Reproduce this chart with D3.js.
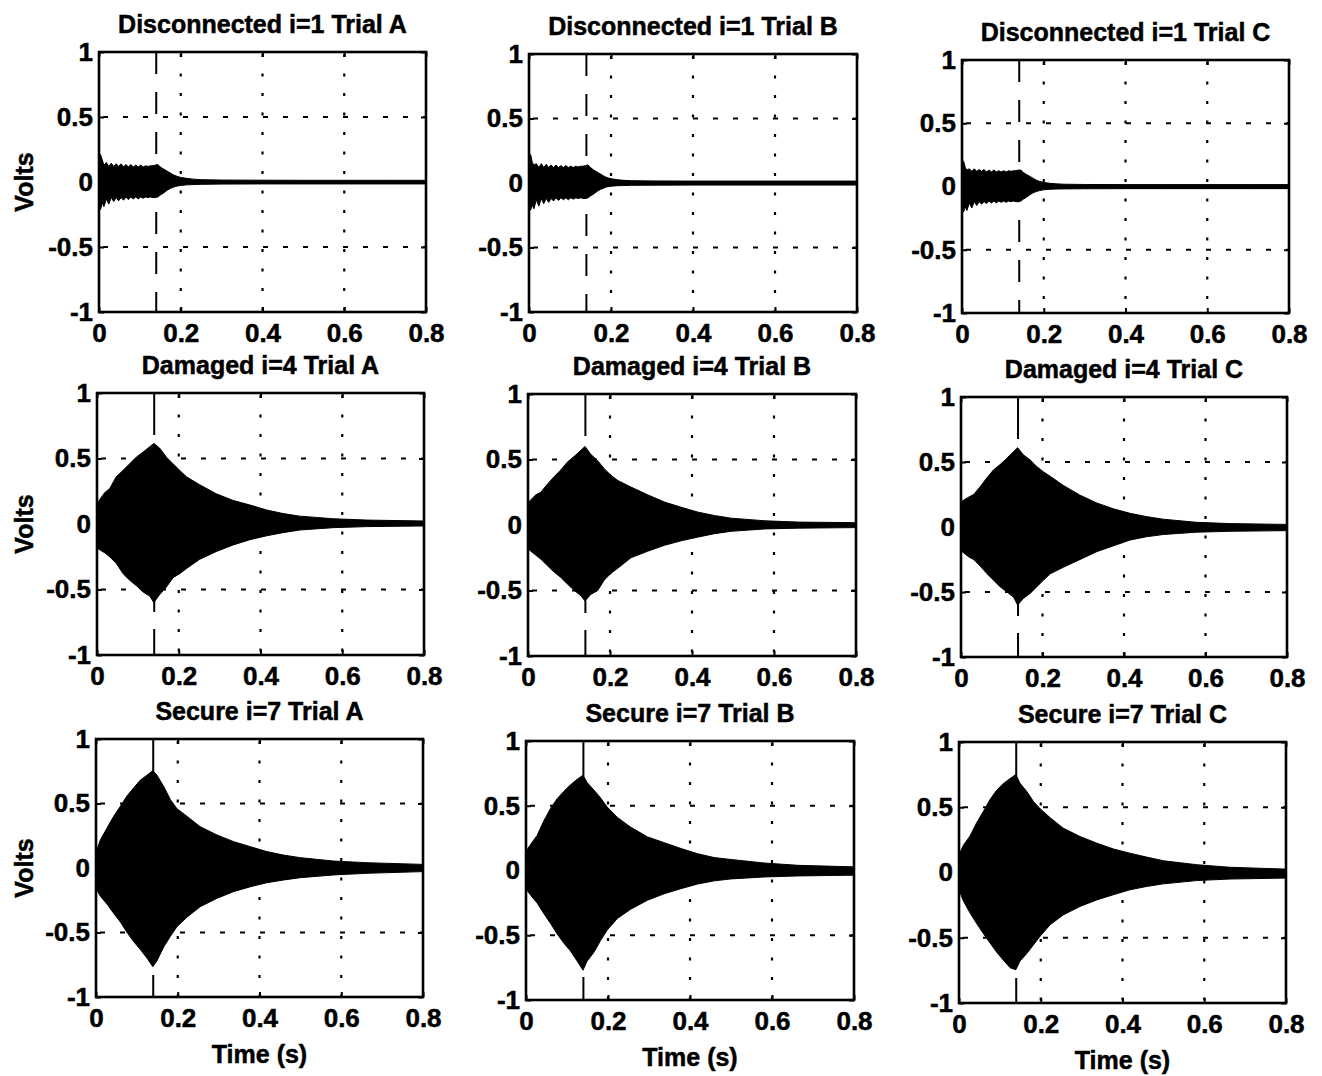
<!DOCTYPE html>
<html>
<head>
<meta charset="utf-8">
<script src="https://cdn.jsdelivr.net/npm/d3@7"></script>
<style>
  body { margin: 0; background: #fff; }
  svg text { font-family: "Liberation Sans", Arial, Helvetica, sans-serif; font-weight: bold; fill: #000; }
</style>
</head>
<body>
<svg id="fig" width="1322" height="1076"></svg>
<script>
// ---- Labels and ticks ----
const conditions = ["Disconnected i=1", "Damaged i=4", "Secure i=7"];
const trials = ["A", "B", "C"];
const xTicks = [0, 0.2, 0.4, 0.6, 0.8];
const xTickLabels = ["0", "0.2", "0.4", "0.6", "0.8"];
const yTicks = [-1, -0.5, 0, 0.5, 1];
const yTickLabels = ["-1", "-0.5", "0", "0.5", "1"];
const gridX = [0.2, 0.4, 0.6];
const gridY = [-0.5, 0, 0.5];
const impactTime = 0.14;   // time of the marker line (s)

// ---- Disconnected (i=1): signal envelope, volts ----
const timeDisconnected = [0, 0.004, 0.008, 0.012, 0.018, 0.024, 0.030, 0.036, 0.042, 0.048, 0.054, 0.060, 0.066, 0.072,
  0.078, 0.084, 0.090, 0.096, 0.102, 0.108, 0.114, 0.120, 0.126, 0.132, 0.138, 0.144, 0.150, 0.158, 0.166, 0.174,
  0.182, 0.190, 0.200, 0.215, 0.230, 0.250, 0.300, 0.400, 0.500, 0.600, 0.700, 0.800];
const upperDisconnectedA = [0.22, 0.21, 0.17, 0.13, 0.15, 0.12, 0.145, 0.12, 0.14, 0.12, 0.14, 0.115, 0.135, 0.115,
  0.135, 0.115, 0.13, 0.115, 0.13, 0.115, 0.125, 0.12, 0.125, 0.125, 0.13, 0.135, 0.115, 0.10, 0.085, 0.07,
  0.055, 0.045, 0.035, 0.028, 0.022, 0.018, 0.015, 0.014, 0.013, 0.013, 0.013, 0.013];
const lowerDisconnectedA = [-0.20, -0.21, -0.16, -0.19, -0.13, -0.17, -0.12, -0.15, -0.12, -0.145, -0.12, -0.14, -0.115, -0.135,
  -0.115, -0.13, -0.115, -0.13, -0.115, -0.125, -0.115, -0.12, -0.115, -0.12, -0.12, -0.115, -0.10, -0.085, -0.065, -0.05,
  -0.04, -0.032, -0.026, -0.022, -0.02, -0.018, -0.016, -0.015, -0.015, -0.015, -0.015, -0.015];
const upperDisconnectedB = [0.21, 0.22, 0.16, 0.14, 0.15, 0.12, 0.15, 0.12, 0.145, 0.12, 0.14, 0.12, 0.14, 0.12,
  0.135, 0.12, 0.135, 0.12, 0.13, 0.12, 0.13, 0.125, 0.13, 0.13, 0.135, 0.14, 0.12, 0.10, 0.085, 0.07,
  0.055, 0.042, 0.033, 0.026, 0.021, 0.018, 0.016, 0.015, 0.015, 0.015, 0.015, 0.015];
const lowerDisconnectedB = [-0.20, -0.21, -0.17, -0.20, -0.13, -0.18, -0.12, -0.16, -0.12, -0.15, -0.12, -0.14, -0.115, -0.135,
  -0.115, -0.13, -0.115, -0.13, -0.115, -0.125, -0.115, -0.12, -0.115, -0.12, -0.12, -0.115, -0.10, -0.085, -0.065, -0.05,
  -0.04, -0.03, -0.025, -0.021, -0.02, -0.018, -0.017, -0.016, -0.016, -0.016, -0.016, -0.016];
const upperDisconnectedC = [0.21, 0.20, 0.15, 0.13, 0.14, 0.12, 0.14, 0.12, 0.135, 0.12, 0.135, 0.115, 0.13, 0.115,
  0.13, 0.115, 0.125, 0.115, 0.125, 0.115, 0.125, 0.12, 0.125, 0.125, 0.13, 0.13, 0.11, 0.095, 0.08, 0.065,
  0.05, 0.04, 0.032, 0.025, 0.021, 0.018, 0.016, 0.015, 0.015, 0.015, 0.015, 0.015];
const lowerDisconnectedC = [-0.19, -0.20, -0.16, -0.19, -0.13, -0.17, -0.12, -0.15, -0.12, -0.14, -0.12, -0.135, -0.115, -0.13,
  -0.115, -0.13, -0.115, -0.125, -0.115, -0.125, -0.115, -0.12, -0.115, -0.12, -0.12, -0.115, -0.10, -0.085, -0.065, -0.05,
  -0.04, -0.032, -0.026, -0.022, -0.02, -0.019, -0.018, -0.017, -0.017, -0.017, -0.017, -0.017];

// ---- Damaged (i=4) ----
const timeDamaged = [0, 0.003, 0.019, 0.031, 0.047, 0.064, 0.080, 0.096, 0.113, 0.129, 0.139, 0.153, 0.170,
  0.186, 0.202, 0.219, 0.251, 0.292, 0.333, 0.374, 0.415, 0.455, 0.496, 0.578, 0.660, 0.800];
const upperDamagedA = [0.13, 0.17, 0.24, 0.27, 0.36, 0.41, 0.46, 0.51, 0.55, 0.59, 0.615, 0.58, 0.51,
  0.46, 0.41, 0.36, 0.30, 0.23, 0.18, 0.145, 0.107, 0.08, 0.06, 0.04, 0.03, 0.023];
const lowerDamagedA = [-0.15, -0.19, -0.22, -0.25, -0.30, -0.38, -0.43, -0.47, -0.52, -0.55, -0.60, -0.54, -0.48,
  -0.41, -0.38, -0.34, -0.27, -0.21, -0.16, -0.12, -0.09, -0.066, -0.046, -0.028, -0.02, -0.015];
const upperDamagedB = [0.13, 0.18, 0.23, 0.25, 0.31, 0.37, 0.42, 0.48, 0.525, 0.57, 0.60, 0.54, 0.49,
  0.43, 0.38, 0.34, 0.29, 0.23, 0.175, 0.135, 0.098, 0.072, 0.052, 0.032, 0.022, 0.018];
const lowerDamagedB = [-0.15, -0.19, -0.23, -0.26, -0.31, -0.36, -0.40, -0.45, -0.50, -0.54, -0.58, -0.53, -0.50,
  -0.42, -0.37, -0.33, -0.25, -0.20, -0.155, -0.12, -0.092, -0.066, -0.048, -0.03, -0.024, -0.02];
const upperDamagedC = [0.15, 0.20, 0.23, 0.25, 0.31, 0.38, 0.44, 0.48, 0.53, 0.58, 0.61, 0.555, 0.515,
  0.465, 0.425, 0.39, 0.32, 0.245, 0.185, 0.14, 0.105, 0.08, 0.06, 0.036, 0.026, 0.02];
const lowerDamagedC = [-0.15, -0.19, -0.23, -0.25, -0.30, -0.36, -0.41, -0.46, -0.50, -0.54, -0.60, -0.55, -0.51,
  -0.46, -0.41, -0.36, -0.31, -0.25, -0.19, -0.145, -0.10, -0.075, -0.058, -0.04, -0.033, -0.028];

// ---- Secure (i=7) ----
const timeSecure = [0, 0.002, 0.011, 0.027, 0.043, 0.060, 0.076, 0.092, 0.108, 0.125, 0.139, 0.149, 0.166,
  0.182, 0.198, 0.223, 0.255, 0.296, 0.337, 0.378, 0.418, 0.459, 0.500, 0.581, 0.663, 0.800];
const upperSecureA = [0.12, 0.14, 0.22, 0.31, 0.40, 0.48, 0.56, 0.62, 0.68, 0.72, 0.755, 0.72, 0.63,
  0.53, 0.46, 0.40, 0.32, 0.256, 0.204, 0.165, 0.127, 0.10, 0.08, 0.054, 0.041, 0.028];
const lowerSecureA = [-0.15, -0.17, -0.22, -0.28, -0.35, -0.42, -0.50, -0.57, -0.63, -0.70, -0.765, -0.72, -0.61,
  -0.53, -0.455, -0.38, -0.30, -0.235, -0.183, -0.145, -0.114, -0.093, -0.075, -0.054, -0.041, -0.028];
const upperSecureB = [0.13, 0.157, 0.20, 0.27, 0.38, 0.48, 0.555, 0.61, 0.66, 0.705, 0.735, 0.68, 0.62,
  0.56, 0.49, 0.41, 0.335, 0.26, 0.215, 0.17, 0.13, 0.10, 0.085, 0.058, 0.04, 0.028];
const lowerSecureB = [-0.13, -0.15, -0.19, -0.25, -0.33, -0.41, -0.49, -0.56, -0.62, -0.70, -0.77, -0.70, -0.63,
  -0.54, -0.46, -0.37, -0.30, -0.23, -0.18, -0.14, -0.105, -0.08, -0.065, -0.05, -0.042, -0.036];
const upperSecureC = [0.13, 0.15, 0.21, 0.28, 0.38, 0.47, 0.56, 0.63, 0.68, 0.72, 0.75, 0.685, 0.62,
  0.545, 0.49, 0.42, 0.34, 0.276, 0.225, 0.18, 0.148, 0.118, 0.09, 0.06, 0.04, 0.026];
const lowerSecureC = [-0.13, -0.15, -0.22, -0.31, -0.39, -0.47, -0.54, -0.61, -0.67, -0.73, -0.745, -0.68, -0.62,
  -0.555, -0.49, -0.40, -0.325, -0.26, -0.21, -0.17, -0.133, -0.107, -0.087, -0.062, -0.05, -0.043];

// ---- Assemble rows of the figure ----
const rows = [
  { name: conditions[0], time: timeDisconnected,
    upper: [upperDisconnectedA, upperDisconnectedB, upperDisconnectedC],
    lower: [lowerDisconnectedA, lowerDisconnectedB, lowerDisconnectedC] },
  { name: conditions[1], time: timeDamaged,
    upper: [upperDamagedA, upperDamagedB, upperDamagedC],
    lower: [lowerDamagedA, lowerDamagedB, lowerDamagedC] },
  { name: conditions[2], time: timeSecure,
    upper: [upperSecureA, upperSecureB, upperSecureC],
    lower: [lowerSecureA, lowerSecureB, lowerSecureC] }
];

// ---- Layout: axes boxes [left, top, right, bottom] in pixels ----
const panelBoxes = [
  [[99, 52, 426, 312], [529, 54, 857, 312], [962, 60, 1289, 313]],
  [[97, 393, 424, 655], [528, 394, 856, 656], [961, 397, 1287, 657]],
  [[96, 739, 423, 997], [526, 741, 854, 1000], [959, 742, 1286, 1003]]
];
const markerDash = ["22,18", "42,17", "42,17"];
const textStroke = 0.5;   // slight outline for a heavier print-like weight

const svg = d3.select("#fig");

function styleAxis(g, showLabels) {
  g.select(".domain").remove();
  g.selectAll(".tick line").attr("stroke", "#000").attr("stroke-width", 2);
  g.selectAll(".tick text")
    .attr("font-size", 26)
    .attr("font-family", "'Liberation Sans', Arial, sans-serif")
    .attr("font-weight", "bold")
    .attr("fill", "#000")
    .attr("stroke", "#000").attr("stroke-width", textStroke);
  if (!showLabels) g.selectAll(".tick text").remove();
}

rows.forEach((row, r) => {
  trials.forEach((trial, c) => {
    const [x0, y0, x1, y1] = panelBoxes[r][c];
    const x = d3.scaleLinear().domain([0, 0.8]).range([x0, x1]);
    const y = d3.scaleLinear().domain([-1, 1]).range([y1, y0]);
    const g = svg.append("g").attr("class", "panel");

    // dotted grid
    g.selectAll(".vgrid").data(gridX).join("line")
      .attr("x1", d => x(d)).attr("x2", d => x(d))
      .attr("y1", y(1)).attr("y2", y(-1))
      .attr("stroke", "#000").attr("stroke-width", 2.2)
      .attr("stroke-dasharray", "3,16.5").attr("stroke-dashoffset", -2);
    g.selectAll(".hgrid").data(gridY).join("line")
      .attr("x1", x(0)).attr("x2", x(0.8))
      .attr("y1", d => y(d)).attr("y2", d => y(d))
      .attr("stroke", "#000").attr("stroke-width", 2.2)
      .attr("stroke-dasharray", "5,15").attr("stroke-dashoffset", -4);

    // signal envelope
    const up = row.upper[c], lo = row.lower[c];
    const area = d3.area()
      .x((d, i) => x(row.time[i]))
      .y0((d, i) => y(lo[i]))
      .y1((d, i) => y(up[i]));
    g.append("path")
      .datum(row.time)
      .attr("d", area)
      .attr("fill", "#000")
      .attr("stroke", "#000")
      .attr("stroke-width", 1);

    // marker line at the impact time
    g.append("line")
      .attr("x1", x(impactTime)).attr("x2", x(impactTime))
      .attr("y1", y(1)).attr("y2", y(-1))
      .attr("stroke", "#000").attr("stroke-width", 2)
      .attr("stroke-dasharray", markerDash[r]);

    // axes with inward ticks
    const ax = g.append("g").attr("transform", `translate(0,${y1})`)
      .call(d3.axisBottom(x).tickValues(xTicks).tickFormat((d, i) => xTickLabels[i])
        .tickSizeInner(-5).tickSizeOuter(0).tickPadding(12));
    styleAxis(ax, true);
    const ay = g.append("g").attr("transform", `translate(${x0},0)`)
      .call(d3.axisLeft(y).tickValues(yTicks).tickFormat((d, i) => yTickLabels[i])
        .tickSizeInner(-5).tickSizeOuter(0).tickPadding(6));
    styleAxis(ay, true);
    const at = g.append("g").attr("transform", `translate(0,${y0})`)
      .call(d3.axisTop(x).tickValues(xTicks).tickSizeInner(-5).tickSizeOuter(0));
    styleAxis(at, false);
    const ar = g.append("g").attr("transform", `translate(${x1},0)`)
      .call(d3.axisRight(y).tickValues(yTicks).tickSizeInner(-5).tickSizeOuter(0));
    styleAxis(ar, false);

    // axes box
    g.append("rect")
      .attr("x", x0).attr("y", y0)
      .attr("width", x1 - x0).attr("height", y1 - y0)
      .attr("fill", "none").attr("stroke", "#000").attr("stroke-width", 2.6);

    // title
    g.append("text")
      .attr("x", (x0 + x1) / 2).attr("y", y0 - 19)
      .attr("text-anchor", "middle").attr("font-size", 25)
      .attr("stroke", "#000").attr("stroke-width", textStroke)
      .text(`${row.name} Trial ${trial}`);

    if (c === 0) {
      g.append("text")
        .attr("transform", `translate(33,${(y0 + y1) / 2}) rotate(-90)`)
        .attr("text-anchor", "middle").attr("font-size", 25)
        .attr("stroke", "#000").attr("stroke-width", textStroke)
        .text("Volts");
    }
    if (r === rows.length - 1) {
      g.append("text")
        .attr("x", (x0 + x1) / 2).attr("y", y1 + 66)
        .attr("text-anchor", "middle").attr("font-size", 25)
        .attr("stroke", "#000").attr("stroke-width", textStroke)
        .text("Time (s)");
    }
  });
});
</script>
</body>
</html>
